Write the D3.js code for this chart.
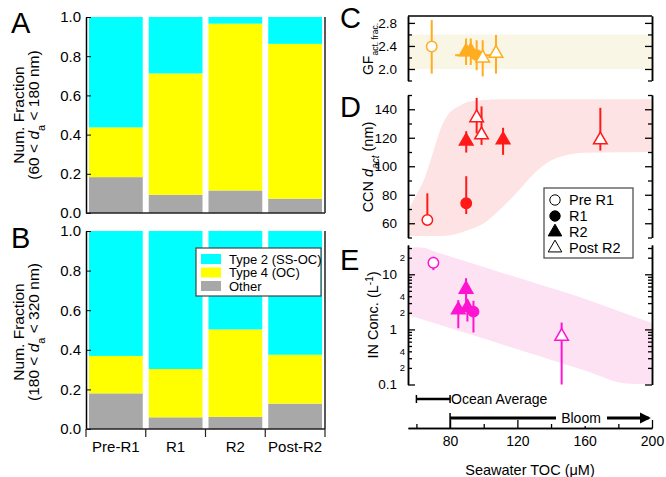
<!DOCTYPE html>
<html>
<head>
<meta charset="utf-8">
<script src="https://cdn.jsdelivr.net/npm/d3@7"></script>
<style>
  body { margin: 0; background: #fff; }
  svg text { font-family: "Liberation Sans", Arial, sans-serif; fill: #000; }
</style>
</head>
<body>
<div id="chart"></div>
<script>
// ---- left panels (stacked fractions) ----
const categories = ["Pre-R1", "R1", "R2", "Post-R2"];
const aOther = [0.183, 0.093, 0.115, 0.073];
const aType4 = [0.254, 0.619, 0.851, 0.790];
const aType2 = [0.563, 0.288, 0.034, 0.137];
const bOther = [0.180, 0.059, 0.061, 0.128];
const bType4 = [0.189, 0.244, 0.442, 0.247];
const bType2 = [0.631, 0.697, 0.497, 0.625];
const fracTicks = [0, 0.2, 0.4, 0.6, 0.8, 1.0];
const stackKeys = ["other", "type4", "type2"];
const stackLabels = { type2: "Type 2 (SS-OC)", type4: "Type 4 (OC)", other: "Other" };

// ---- right panels (vs seawater TOC) ----
const groups = ["Pre R1", "R1", "R2", "Post R2"];
const cToc = [69.1, 89.5, 92.3, 95.8, 99.4, 107.3];
const cVal = [2.39, 2.30, 2.31, 2.24, 2.19, 2.27];
const cLo = [1.92, 2.07, 2.07, 1.98, 1.87, 1.92];
const cHi = [2.85, 2.53, 2.53, 2.50, 2.50, 2.59];
const cXLo = [null, null, null, 83, null, null];
const cXHi = [null, null, null, 107, null, null];
const cGroup = ["Pre R1", "R2", "R2", "R1", "Post R2", "Post R2"];
const cBandRange = [2.0, 2.6];

const dToc = [66.5, 89.6, 89.6, 95.8, 98.7, 111.5, 169.3];
const dVal = [62.3, 74, 117.6, 134, 122, 118.5, 118.5];
const dLo = [60, 66.5, 109.6, 123, 115, 108, 111];
const dHi = [81, 93, 124.6, 148, 142, 127, 141];
const dGroup = ["Pre R1", "R1", "R2", "Post R2", "Post R2", "R2", "Post R2"];
const dBandToc = [55, 60, 65, 70, 75, 80, 85, 90, 100, 110, 120, 130, 140, 150, 160, 200];
const dBandHi = [69, 80, 92, 110, 128, 138, 142, 145, 146.5, 147, 147, 147, 147, 147, 147, 147];
const dBandLo = [51, 51, 51, 51, 51, 51.5, 53, 55, 60, 70, 82, 95, 104, 108, 109.5, 110];

const eToc = [70.1, 84.9, 89.5, 90.3, 93.9, 146.3];
const eVal = [16.2, 2.26, 5.36, 2.49, 2.1, 0.745];
const eLo = [11.9, 1.05, 2.9, 1.39, 0.88, 0.1];
const eHi = [20.8, 3.4, 8.5, 3.5, 3.3, 1.33];
const eGroup = ["Pre R1", "R2", "R2", "R2", "R1", "Post R2"];
const eBandToc = [55, 60, 65, 70, 100, 130, 160, 185, 200];
const eBandHi = [29, 31, 30, 26.5, 13.6, 7.0, 3.6, 1.9, 1.3];
const eBandLo = [1.85, 1.65, 1.47, 1.32, 0.68, 0.35, 0.18, 0.104, 0.1];

const tocTicks = [80, 120, 160, 200];
const tocMinor = [60, 100, 140, 180];
const oceanAverage = [60, 80];
const bloom = [80, 198];

const colors = { type2: "#00ffff", type4: "#ffff00", other: "#a8a8a8" };

const W = 666, H = 477;
const svg = d3.select("#chart").append("svg")
  .attr("width", W).attr("height", H)
  .style("background", "#fff");

// ================= left stacked bars =================
const x = d3.scaleBand().domain(categories).range([86, 325])
  .paddingInner(0.1).paddingOuter(0.05);

function rowsOf(other, t4, t2) {
  return categories.map((c, i) => ({ cat: c, other: other[i], type4: t4[i], type2: t2[i] }));
}

function stackPanel(rows, y, top, bottom) {
  const g = svg.append("g");
  const series = d3.stack().keys(stackKeys)(rows);
  g.selectAll("g.s").data(series).join("g")
    .attr("fill", d => colors[d.key])
    .selectAll("rect").data(d => d).join("rect")
    .attr("x", d => x(d.data.cat))
    .attr("width", x.bandwidth())
    .attr("y", d => y(d[1]))
    .attr("height", d => y(d[0]) - y(d[1]));

  const ax = g.append("g").attr("transform", "translate(86,0)")
    .call(d3.axisLeft(y).tickValues(fracTicks).tickFormat(d3.format(".1f"))
      .tickSizeInner(-5).tickSizeOuter(0).tickPadding(5));
  ax.select(".domain").attr("stroke-width", 1.5);
  ax.selectAll("text").style("font-size", "15px");
  g.append("line").attr("x1", 325).attr("x2", 325).attr("y1", top).attr("y2", bottom)
    .attr("stroke", "#222").attr("stroke-width", 1.5);
  g.append("line").attr("x1", 86).attr("x2", 325).attr("y1", bottom).attr("y2", bottom)
    .attr("stroke", "#222").attr("stroke-width", 1.5);
  return g;
}

const yA = d3.scaleLinear().domain([0, 1]).range([213, 17]);
const yB = d3.scaleLinear().domain([0, 1]).range([429, 231]);
stackPanel(rowsOf(aOther, aType4, aType2), yA, 17, 213);
const gB = stackPanel(rowsOf(bOther, bType4, bType2), yB, 231, 429);

// category ticks and labels under B
const bounds = [x.range()[0]];
categories.slice(1).forEach(c => bounds.push(x(c) - x.step() * x.paddingInner() / 2));
bounds.push(x.range()[1]);
gB.selectAll("line.ct").data(bounds).join("line")
  .attr("x1", d => d).attr("x2", d => d).attr("y1", 429).attr("y2", 437)
  .attr("stroke", "#222").attr("stroke-width", 1.2);
gB.selectAll("text.cat").data(categories).join("text")
  .attr("x", d => x(d) + x.bandwidth() / 2).attr("y", 452)
  .attr("text-anchor", "middle").style("font-size", "15px").text(d => d);

// legend in B
const lgB = svg.append("g").attr("transform", "translate(196,248)");
lgB.append("rect").attr("width", 125).attr("height", 48)
  .attr("fill", "#fff").attr("stroke", "#444").attr("stroke-width", 1.2);
["type2", "type4", "other"].forEach((k, i) => {
  lgB.append("rect").attr("x", 5).attr("y", 6 + i * 13.5).attr("width", 20).attr("height", 10)
    .attr("fill", colors[k]);
  lgB.append("text").attr("x", 33).attr("y", 11 + i * 13.5).attr("dy", "0.35em")
    .style("font-size", "13px").text(stackLabels[k]);
});

// left y labels
function leftLabel(cy, lo, hi) {
  svg.append("text").attr("transform", `translate(24,${cy}) rotate(-90)`)
    .attr("text-anchor", "middle").style("font-size", "15.5px").text("Num. Fraction");
  const t = svg.append("text").attr("transform", `translate(38.5,${cy}) rotate(-90)`)
    .attr("text-anchor", "middle").style("font-size", "15.5px");
  t.append("tspan").text(`(${lo} < `);
  t.append("tspan").style("font-style", "italic").text("d");
  t.append("tspan").attr("baseline-shift", "sub").style("font-size", "11px").text("a");
  t.append("tspan").text(` < ${hi} nm)`);
}
leftLabel(115, 60, 180);
leftLabel(332, 180, 320);

// ================= right panels =================
const xT = d3.scaleLinear().domain([55, 200]).range([408, 652]);
const yC = d3.scaleLinear().domain([1.8, 2.92]).range([80.5, 16]);
const yD = d3.scaleLinear().domain([50, 150]).range([237.5, 95]);
const yE = d3.scaleLog().domain([0.1, 34]).range([384.5, 245]);

function sideAxes(y, major, minor, fmt, fontSize) {
  const g = svg.append("g");
  const l = g.append("g").attr("transform", "translate(408,0)")
    .call(d3.axisLeft(y).tickValues(major).tickFormat(fmt)
      .tickSizeInner(-7).tickSizeOuter(0).tickPadding(11));
  l.selectAll("text").style("font-size", fontSize);
  g.append("g").attr("transform", "translate(408,0)")
    .call(d3.axisLeft(y).tickValues(minor).tickFormat("").tickSizeInner(-4).tickSizeOuter(0));
  g.append("g").attr("transform", "translate(652,0)")
    .call(d3.axisRight(y).tickValues(major).tickFormat("").tickSizeInner(-7).tickSizeOuter(0));
  g.append("g").attr("transform", "translate(652,0)")
    .call(d3.axisRight(y).tickValues(minor).tickFormat("").tickSizeInner(-4).tickSizeOuter(0));
  g.selectAll(".domain").attr("stroke-width", 1.5);
  g.selectAll(".tick line").attr("stroke-width", 1.3);
  return g;
}

function clipFor(id, y) {
  const [y0, y1] = y.range();
  svg.append("clipPath").attr("id", id).append("rect")
    .attr("x", 408).attr("width", 244).attr("y", Math.min(y0, y1)).attr("height", Math.abs(y0 - y1));
}

function marker(group, color) {
  const tri = group === "R2" || group === "Post R2";
  const open = group === "Pre R1" || group === "Post R2";
  return {
    d: d3.symbol().type(tri ? d3.symbolTriangle : d3.symbolCircle).size(tri ? 80 : 85)(),
    fill: open ? "#fff" : color,
    stroke: color
  };
}

function points(y, toc, val, lo, hi, grp, color, xlo, xhi) {
  const g = svg.append("g");
  toc.forEach((t, i) => {
    g.append("line").attr("x1", xT(t)).attr("x2", xT(t))
      .attr("y1", y(lo[i])).attr("y2", y(hi[i]))
      .attr("stroke", color).attr("stroke-width", 2);
    if (xlo && xlo[i] != null) {
      g.append("line").attr("x1", xT(xlo[i])).attr("x2", xT(xhi[i]))
        .attr("y1", y(val[i])).attr("y2", y(val[i]))
        .attr("stroke", color).attr("stroke-width", 2);
    }
  });
  toc.forEach((t, i) => {
    const m = marker(grp[i], color);
    g.append("path").attr("d", m.d)
      .attr("transform", `translate(${xT(t)},${y(val[i])})`)
      .attr("fill", m.fill).attr("stroke", m.stroke).attr("stroke-width", 1.5);
  });
}

// --- C ---
clipFor("clipC", yC);
svg.append("rect").attr("x", 408).attr("width", 244)
  .attr("y", yC(cBandRange[1])).attr("height", yC(cBandRange[0]) - yC(cBandRange[1]))
  .attr("fill", "#faf6e6");
sideAxes(yC, [2.0, 2.4, 2.8], [1.8, 2.2, 2.6], d3.format(".1f"), "13.5px");
svg.append("line").attr("x1", 408).attr("x2", 652).attr("y1", 16).attr("y2", 16)
  .attr("stroke", "#000").attr("stroke-width", 1.5);
points(yC, cToc, cVal, cLo, cHi, cGroup, "#ffad1f", cXLo, cXHi);

// --- D ---
clipFor("clipD", yD);
const dBand = dBandToc.map((t, i) => ({ t, lo: dBandLo[i], hi: dBandHi[i] }));
svg.append("path").datum(dBand).attr("clip-path", "url(#clipD)")
  .attr("fill", "#fde3e3")
  .attr("d", d3.area().curve(d3.curveMonotoneX)
    .x(d => xT(d.t)).y0(d => yD(d.lo)).y1(d => yD(d.hi)));
sideAxes(yD, [60, 80, 100, 120, 140], [50, 70, 90, 110, 130, 150], d3.format("d"), "13.5px");
points(yD, dToc, dVal, dLo, dHi, dGroup, "#ff1a1a");

// --- E ---
clipFor("clipE", yE);
const eBand = eBandToc.map((t, i) => ({ t, lo: eBandLo[i], hi: eBandHi[i] }));
svg.append("path").datum(eBand).attr("clip-path", "url(#clipE)")
  .attr("fill", "#fde2f4")
  .attr("d", d3.area().curve(d3.curveMonotoneX)
    .x(d => xT(d.t)).y0(d => yE(d.lo)).y1(d => yE(d.hi)));
const eMajor = [0.1, 1, 10];
const eMinor = [];
[0.1, 1, 10].forEach(dec => d3.range(2, 10).forEach(k => { if (k * dec <= 34) eMinor.push(k * dec); }));
sideAxes(yE, eMajor, eMinor, d => (d < 1 ? "0.1" : String(d)), "13.5px");
svg.append("g").selectAll("text").data(eMinor.filter(v => [2, 4].includes(Math.round(v / Math.pow(10, Math.floor(Math.log10(v) + 1e-9))))))
  .join("text")
  .attr("x", 405).attr("y", d => yE(d)).attr("dy", "0.35em")
  .attr("text-anchor", "end").style("font-size", "9.5px")
  .text(d => Math.round(d / Math.pow(10, Math.floor(Math.log10(d) + 1e-9))));
points(yE, eToc, eVal, eLo, eHi, eGroup, "#ff14d2");

// legend D/E
const lgD = svg.append("g").attr("transform", "translate(544,188)");
lgD.append("rect").attr("width", 89).attr("height", 70)
  .attr("fill", "#fff").attr("stroke", "#444").attr("stroke-width", 1.2);
groups.forEach((gname, i) => {
  const m = marker(gname, "#000");
  lgD.append("path").attr("d", m.d).attr("transform", `translate(11,${12 + i * 16})`)
    .attr("fill", m.fill === "#fff" ? "#fff" : "#000").attr("stroke", "#000").attr("stroke-width", 1);
  lgD.append("text").attr("x", 25).attr("y", 12 + i * 16).attr("dy", "0.35em")
    .style("font-size", "14.5px").text(gname);
});

// bottom TOC axis
const bx = svg.append("g").attr("transform", "translate(0,428)");
const bMaj = bx.append("g").call(d3.axisBottom(xT).tickValues(tocTicks)
  .tickSizeInner(-8).tickSizeOuter(0).tickPadding(8));
bMaj.selectAll("text").style("font-size", "14px");
bx.append("g").call(d3.axisBottom(xT).tickValues(tocMinor).tickFormat("")
  .tickSizeInner(-4).tickSizeOuter(0));
bx.selectAll(".domain").attr("stroke-width", 1.5);
bx.selectAll(".tick line").attr("stroke-width", 1.3);
svg.append("text").attr("x", 530).attr("y", 470).attr("dy", "0.35em")
  .attr("text-anchor", "middle").style("font-size", "14.5px").text("Seawater TOC (\u03bcM)");

// ocean average and bloom ranges
const oy = 399;
svg.append("line").attr("x1", xT(oceanAverage[0])).attr("x2", xT(oceanAverage[1]))
  .attr("y1", oy).attr("y2", oy).attr("stroke", "#000").attr("stroke-width", 2.5);
oceanAverage.forEach(v => svg.append("line").attr("x1", xT(v)).attr("x2", xT(v))
  .attr("y1", oy - 4).attr("y2", oy + 4).attr("stroke", "#000").attr("stroke-width", 1.5));
svg.append("text").attr("x", xT(oceanAverage[1]) + 1).attr("y", oy).attr("dy", "0.35em")
  .style("font-size", "14px").text("Ocean Average");

const by = 418;
svg.append("defs").append("marker").attr("id", "arr")
  .attr("viewBox", "0 0 10 10").attr("refX", 8).attr("refY", 5)
  .attr("markerWidth", 4).attr("markerHeight", 4).attr("orient", "auto")
  .append("path").attr("d", "M0,0L10,5L0,10Z").attr("fill", "#000");
svg.append("line").attr("x1", xT(bloom[0])).attr("x2", xT(bloom[1]))
  .attr("y1", by).attr("y2", by).attr("stroke", "#000").attr("stroke-width", 2.8)
  .attr("marker-end", "url(#arr)");
svg.append("line").attr("x1", xT(bloom[0])).attr("x2", xT(bloom[0]))
  .attr("y1", by - 5).attr("y2", 428).attr("stroke", "#000").attr("stroke-width", 1.5);
svg.append("rect").attr("x", 556).attr("y", by - 8).attr("width", 51).attr("height", 16).attr("fill", "#fff");
svg.append("text").attr("x", 581).attr("y", by).attr("dy", "0.35em")
  .attr("text-anchor", "middle").style("font-size", "14px").text("Bloom");

// right y labels
const gf = svg.append("text").attr("transform", "translate(373,49) rotate(-90)")
  .attr("text-anchor", "middle").style("font-size", "14px");
gf.append("tspan").text("GF");
gf.append("tspan").attr("baseline-shift", "sub").style("font-size", "8.5px").text("act. frac.");

const ccn = svg.append("text").attr("transform", "translate(373,167) rotate(-90)")
  .attr("text-anchor", "middle").style("font-size", "14.5px");
ccn.append("tspan").text("CCN ");
ccn.append("tspan").style("font-style", "italic").text("d");
ccn.append("tspan").attr("baseline-shift", "sub").style("font-size", "10px").style("font-style", "italic").text("act");
ccn.append("tspan").text(" (nm)");

const inc = svg.append("text").attr("transform", "translate(378,315) rotate(-90)")
  .attr("text-anchor", "middle").style("font-size", "14.5px");
inc.append("tspan").text("IN Conc. (L");
inc.append("tspan").attr("baseline-shift", "super").style("font-size", "10px").text("-1");
inc.append("tspan").text(")");

// panel letters
[["A", 11, 33], ["B", 11, 248], ["C", 340, 28], ["D", 340, 117], ["E", 340, 270]].forEach(([t, px, py]) => {
  svg.append("text").attr("x", px).attr("y", py).style("font-size", "29px").text(t);
});
</script>
</body>
</html>
